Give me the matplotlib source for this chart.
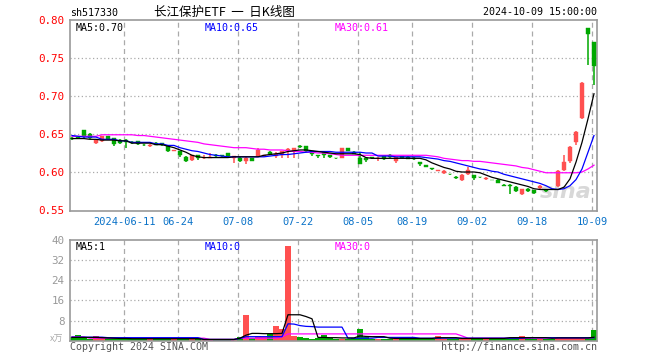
import numpy as np
import matplotlib
matplotlib.use("Agg")
import matplotlib.pyplot as plt

plt.rcParams['font.family'] = ['DejaVu Sans Mono', 'Noto Sans CJK SC']

# daily K-line data
opens = [0.645, 0.646, 0.655, 0.650, 0.638, 0.641, 0.647, 0.645, 0.642, 0.642,
         0.640, 0.641, 0.636, 0.634, 0.638, 0.638, 0.634, 0.627, 0.627, 0.620,
         0.616, 0.622, 0.618, 0.619, 0.623, 0.622, 0.625, 0.619, 0.619, 0.615,
         0.619, 0.621, 0.621, 0.626, 0.621, 0.623, 0.629, 0.627, 0.634, 0.634,
         0.627, 0.622, 0.626, 0.622, 0.619, 0.619, 0.631, 0.626, 0.619, 0.618,
         0.620, 0.618, 0.621, 0.623, 0.614, 0.621, 0.620, 0.619, 0.613, 0.609,
         0.605, 0.601, 0.599, 0.598, 0.594, 0.589, 0.597, 0.596, 0.594, 0.591,
         0.590, 0.590, 0.583, 0.583, 0.580, 0.571, 0.578, 0.576, 0.579, 0.576,
         0.578, 0.581, 0.602, 0.614, 0.640, 0.671, 0.789, 0.771]
closes = [0.643, 0.645, 0.647, 0.645, 0.642, 0.647, 0.644, 0.637, 0.638, 0.640,
          0.638, 0.637, 0.635, 0.636, 0.636, 0.635, 0.628, 0.629, 0.622, 0.615,
          0.622, 0.618, 0.619, 0.620, 0.621, 0.621, 0.621, 0.621, 0.614, 0.619,
          0.615, 0.629, 0.622, 0.624, 0.624, 0.627, 0.630, 0.631, 0.633, 0.627,
          0.624, 0.621, 0.623, 0.620, 0.618, 0.631, 0.628, 0.624, 0.611, 0.616,
          0.618, 0.619, 0.617, 0.620, 0.620, 0.619, 0.617, 0.617, 0.610, 0.607,
          0.604, 0.602, 0.601, 0.597, 0.592, 0.596, 0.603, 0.592, 0.593, 0.592,
          0.589, 0.586, 0.581, 0.582, 0.575, 0.578, 0.575, 0.573, 0.581, 0.575,
          0.577, 0.601, 0.613, 0.633, 0.652, 0.717, 0.781, 0.739]
highs = [0.646, 0.647, 0.655, 0.651, 0.642, 0.648, 0.648, 0.645, 0.643, 0.643,
         0.641, 0.641, 0.637, 0.637, 0.639, 0.638, 0.634, 0.629, 0.627, 0.621,
         0.622, 0.623, 0.622, 0.625, 0.624, 0.622, 0.625, 0.621, 0.620, 0.620,
         0.619, 0.631, 0.623, 0.627, 0.626, 0.628, 0.631, 0.631, 0.635, 0.634,
         0.627, 0.622, 0.627, 0.623, 0.619, 0.631, 0.632, 0.627, 0.626, 0.619,
         0.620, 0.620, 0.621, 0.624, 0.620, 0.621, 0.621, 0.620, 0.613, 0.609,
         0.605, 0.602, 0.602, 0.598, 0.595, 0.597, 0.606, 0.596, 0.594, 0.593,
         0.590, 0.591, 0.584, 0.584, 0.581, 0.578, 0.579, 0.576, 0.583, 0.577,
         0.578, 0.602, 0.622, 0.634, 0.654, 0.718, 0.789, 0.771]
lows = [0.642, 0.644, 0.645, 0.644, 0.637, 0.640, 0.643, 0.634, 0.637, 0.632,
        0.637, 0.636, 0.634, 0.633, 0.635, 0.634, 0.626, 0.627, 0.620, 0.613,
        0.615, 0.616, 0.617, 0.618, 0.620, 0.620, 0.620, 0.612, 0.613, 0.610,
        0.614, 0.620, 0.620, 0.623, 0.619, 0.619, 0.619, 0.618, 0.632, 0.626,
        0.621, 0.618, 0.619, 0.619, 0.617, 0.618, 0.627, 0.624, 0.610, 0.613,
        0.617, 0.614, 0.616, 0.619, 0.612, 0.618, 0.617, 0.616, 0.608, 0.606,
        0.603, 0.601, 0.597, 0.596, 0.591, 0.588, 0.596, 0.590, 0.592, 0.590,
        0.589, 0.585, 0.581, 0.571, 0.574, 0.570, 0.574, 0.571, 0.578, 0.574,
        0.576, 0.580, 0.601, 0.612, 0.636, 0.670, 0.741, 0.715]

ma5 = [0.644, 0.644, 0.644, 0.643, 0.643, 0.642, 0.642, 0.642, 0.641, 0.641,
       0.638, 0.638, 0.638, 0.638, 0.636, 0.636, 0.634, 0.632, 0.629, 0.626,
       0.622, 0.620, 0.619, 0.619, 0.619, 0.619, 0.619, 0.620, 0.620, 0.620,
       0.620, 0.620, 0.622, 0.623, 0.624, 0.625, 0.627, 0.628, 0.629, 0.629,
       0.628, 0.627, 0.626, 0.625, 0.624, 0.624, 0.624, 0.624, 0.623, 0.619,
       0.618, 0.618, 0.618, 0.618, 0.618, 0.618, 0.618, 0.618, 0.618, 0.616,
       0.612, 0.609, 0.606, 0.604, 0.601, 0.600, 0.600, 0.600, 0.599, 0.596,
       0.593, 0.591, 0.589, 0.587, 0.585, 0.583, 0.581, 0.578, 0.577, 0.577,
       0.577, 0.577, 0.580, 0.591, 0.613, 0.639, 0.670, 0.703]
ma10 = [0.648, 0.647, 0.646, 0.646, 0.646, 0.643, 0.643, 0.643, 0.641, 0.641,
        0.639, 0.639, 0.639, 0.639, 0.637, 0.637, 0.635, 0.635, 0.632, 0.630,
        0.628, 0.627, 0.625, 0.623, 0.622, 0.621, 0.620, 0.620, 0.620, 0.620,
        0.620, 0.620, 0.620, 0.621, 0.622, 0.623, 0.623, 0.624, 0.625, 0.626,
        0.627, 0.627, 0.627, 0.627, 0.626, 0.626, 0.626, 0.626, 0.626, 0.625,
        0.625, 0.621, 0.621, 0.621, 0.620, 0.620, 0.620, 0.620, 0.620, 0.619,
        0.618, 0.617, 0.615, 0.614, 0.612, 0.610, 0.608, 0.606, 0.604, 0.603,
        0.601, 0.600, 0.597, 0.595, 0.593, 0.591, 0.589, 0.587, 0.585, 0.582,
        0.578, 0.577, 0.578, 0.582, 0.590, 0.604, 0.626, 0.648]
ma30 = [0.647, 0.647, 0.647, 0.647, 0.647, 0.649, 0.649, 0.649, 0.649, 0.649,
        0.649, 0.648, 0.648, 0.647, 0.646, 0.645, 0.644, 0.643, 0.642, 0.641,
        0.640, 0.639, 0.637, 0.636, 0.635, 0.634, 0.633, 0.632, 0.632, 0.632,
        0.631, 0.630, 0.630, 0.629, 0.629, 0.629, 0.628, 0.627, 0.627, 0.626,
        0.626, 0.625, 0.625, 0.624, 0.623, 0.622, 0.622, 0.622, 0.622, 0.622,
        0.622, 0.622, 0.622, 0.622, 0.622, 0.622, 0.622, 0.622, 0.622, 0.622,
        0.621, 0.620, 0.618, 0.617, 0.616, 0.615, 0.615, 0.614, 0.614, 0.613,
        0.612, 0.611, 0.610, 0.609, 0.608, 0.606, 0.605, 0.603, 0.601, 0.599,
        0.599, 0.599, 0.599, 0.599, 0.599, 0.600, 0.604, 0.609]

# volume, x万
volume = [1.3, 2.1, 1.2, 0.8, 1.9, 1.2, 0.9, 0.9, 0.8, 0.8,
          0.7, 0.6, 0.7, 0.6, 0.7, 0.7, 0.8, 0.6, 0.7, 0.7,
          0.6, 0.7, 0.4, 0.5, 0.4, 0.4, 0.5, 0.5, 1.5, 10.3,
          0.9, 2.0, 1.5, 2.5, 6.0, 4.7, 37.5, 1.8, 1.5, 1.2,
          0.8, 0.9, 2.1, 0.9, 0.8, 0.8, 0.8, 0.9, 4.7, 1.6,
          0.8, 0.7, 0.8, 0.7, 0.8, 0.7, 0.7, 0.7, 1.2, 0.8,
          0.7, 2.0, 0.8, 0.7, 0.7, 0.8, 0.9, 0.7, 0.7, 0.6,
          0.7, 0.7, 0.8, 1.2, 1.6, 2.0, 0.9, 0.8, 0.8, 0.7,
          0.8, 1.1, 1.4, 0.9, 1.4, 0.9, 1.1, 4.4]
vol_ma5 = [1.3, 1.3, 1.3, 1.3, 1.3, 1.2, 1.1, 1.0, 0.9, 0.9,
           0.8, 0.8, 0.8, 0.8, 0.8, 0.8, 0.8, 0.8, 0.8, 0.8,
           0.8, 0.8, 0.5, 0.5, 0.5, 0.5, 0.5, 0.5, 1.0, 2.2,
           2.9, 2.9, 2.8, 2.8, 2.8, 2.9, 10.3, 10.3, 10.3, 9.6,
           8.7, 1.3, 1.3, 1.2, 1.2, 1.1, 1.1, 1.1, 1.9, 1.7,
           1.6, 1.6, 1.6, 1.0, 0.9, 0.9, 0.9, 0.9, 0.9, 0.9,
           0.9, 1.2, 1.2, 1.2, 1.2, 0.9, 0.9, 0.9, 0.9, 0.9,
           0.9, 0.9, 0.9, 1.2, 1.2, 1.2, 1.2, 1.2, 1.2, 1.2,
           1.0, 1.1, 1.1, 1.1, 1.1, 1.1, 1.1, 1.4]
vol_ma10 = [1.4, 1.4, 1.4, 1.4, 1.4, 1.4, 1.2, 1.2, 1.2, 1.2,
            1.2, 1.2, 1.2, 1.2, 1.2, 1.2, 1.2, 1.2, 1.2, 1.2,
            1.2, 1.2, 0.5, 0.5, 0.5, 0.5, 0.5, 0.5, 0.9, 1.6,
            1.6, 1.6, 1.6, 1.6, 1.6, 1.6, 6.7, 6.6, 6.0, 5.7,
            5.6, 5.4, 5.4, 5.4, 5.4, 5.4, 1.0, 1.0, 1.0, 1.0,
            1.0, 1.3, 1.3, 1.3, 1.3, 1.3, 1.3, 1.3, 1.0, 1.0,
            1.0, 1.0, 1.0, 1.0, 1.0, 1.0, 1.0, 1.0, 1.0, 1.0,
            1.0, 1.0, 1.0, 1.0, 1.0, 1.0, 1.2, 1.2, 1.2, 1.2,
            1.2, 1.2, 1.2, 1.2, 1.2, 1.2, 1.2, 1.2]
vol_ma30 = [1.5, 1.5, 1.5, 1.0, 1.0, 1.0, 1.0, 1.0, 1.0, 1.0,
            1.0, 1.0, 1.0, 1.0, 1.0, 1.0, 1.0, 1.0, 1.0, 1.0,
            1.0, 1.0, 1.0, 0.5, 0.5, 0.5, 0.5, 0.5, 1.0, 1.0,
            1.0, 1.0, 1.0, 1.0, 1.0, 1.5, 2.7, 2.7, 2.7, 2.7,
            2.7, 2.7, 2.7, 2.7, 2.7, 2.7, 2.7, 2.7, 2.7, 2.7,
            2.7, 2.7, 2.7, 2.7, 2.7, 2.7, 2.7, 2.7, 2.7, 2.7,
            2.7, 2.7, 2.7, 2.7, 2.7, 1.9, 1.0, 1.0, 1.0, 1.0,
            1.0, 1.0, 1.0, 1.0, 1.0, 1.0, 1.0, 1.0, 1.0, 1.0,
            1.0, 1.0, 1.0, 1.0, 1.0, 1.0, 1.0, 1.3]

date_labels = ['2024-06-11', '06-24', '07-08', '07-22', '08-05',
               '08-19', '09-02', '09-18', '10-09']
date_index = [9, 18, 28, 38, 48, 57, 67, 77, 87]

RED = '#ff5050'
GREEN = '#00a800'
GRID = '#aaaaaa'
FRAME = '#999999'
FS = 7.2

o = np.array(opens)
c = np.array(closes)
x = np.arange(len(o))
up = c >= o
colors = np.where(up, RED, GREEN)
tick_x = np.array(date_index) - 0.3

fig = plt.figure(figsize=(6.6, 3.6), dpi=100)
ax = fig.add_axes([70 / 660, 1 - 211 / 360, 527 / 660, 191 / 360])
axv = fig.add_axes([70 / 660, 1 - 340.7 / 360, 527 / 660, 100.7 / 360])

for a in (ax, axv):
    a.set_xlim(-0.33, 87.5)
    for s in a.spines.values():
        s.set_color(FRAME)
        s.set_linewidth(1.2)
    for t in tick_x:
        a.axvline(t, color=GRID, lw=0.9, ls=(0, (4, 3)), zorder=0)

# price panel
for lvl in [0.60, 0.65, 0.70, 0.75]:
    ax.axhline(lvl, color=GRID, lw=0.9, ls=(0, (1, 2)), zorder=0)
ax.vlines(x, lows, highs, color=colors, lw=1.1, zorder=2)
body = np.maximum(np.abs(c - o), 0.0008)
ax.bar(x, body, bottom=np.minimum(o, c), width=0.8, color=colors,
       edgecolor=colors, lw=0.3, zorder=3)
ax.plot(x, ma30, color='#ff00ff', lw=0.9, zorder=4)
ax.plot(x, ma10, color='#0000ff', lw=0.9, zorder=4)
ax.plot(x, ma5, color='#000000', lw=0.9, zorder=4)
ax.set_ylim(0.5487, 0.80)
ax.set_yticks([0.55, 0.60, 0.65, 0.70, 0.75, 0.80])
ax.set_yticklabels(['0.55', '0.60', '0.65', '0.70', '0.75', '0.80'],
                   color='#ff0000', fontsize=FS + 0.6)
ax.set_xticks(tick_x)
ax.set_xticklabels(date_labels, color='#0a72c8', fontsize=FS + 0.3)
ax.tick_params(length=0, pad=4)

ax.text(0.01, 0.985, 'MA5:0.70', transform=ax.transAxes, va='top',
        fontsize=FS, color='black')
ax.text(0.256, 0.985, 'MA10:0.65', transform=ax.transAxes, va='top',
        fontsize=FS, color='#0000ff')
ax.text(0.502, 0.985, 'MA30:0.61', transform=ax.transAxes, va='top',
        fontsize=FS, color='#ff00ff')
ax.text(0.99, 0.1, 'sina', transform=ax.transAxes, ha='right', va='center',
        fontsize=16, fontweight='bold', style='italic', color='#d8d8d8',
        family='DejaVu Sans', zorder=1)

# volume panel
for lvl in [8, 16, 24, 32]:
    axv.axhline(lvl, color=GRID, lw=0.9, ls=(0, (1, 2)), zorder=0)
axv.bar(x, volume, width=0.85, color=colors, zorder=2)
axv.plot(x, vol_ma30, color='#ff00ff', lw=0.9, zorder=3)
axv.plot(x, vol_ma10, color='#0000ff', lw=0.9, zorder=3)
axv.plot(x, vol_ma5, color='#000000', lw=0.9, zorder=3)
axv.set_ylim(0, 40)
axv.set_yticks([8, 16, 24, 32, 40])
axv.set_yticklabels(['8', '16', '24', '32', '40'], color='#999999',
                    fontsize=FS + 0.6)
axv.set_xticks([])
axv.tick_params(length=0, pad=4)

axv.text(0.01, 0.985, 'MA5:1', transform=axv.transAxes, va='top',
         fontsize=FS, color='black')
axv.text(0.256, 0.985, 'MA10:0', transform=axv.transAxes, va='top',
         fontsize=FS, color='#0000ff')
axv.text(0.502, 0.985, 'MA30:0', transform=axv.transAxes, va='top',
         fontsize=FS, color='#ff00ff')

# header / footer texts
fig.text(70 / 660, 1 - 13 / 360, 'sh517330', fontsize=FS, va='center')
fig.text(224 / 660, 1 - 12 / 360, '长江保护ETF  一  日K线图', fontsize=9,
         ha='center', va='center', family=['Noto Sans CJK SC', 'DejaVu Sans'])
fig.text(597 / 660, 1 - 12 / 360, '2024-10-09 15:00:00', fontsize=FS,
         ha='right', va='center')
fig.text(57 / 660, 1 - 339 / 360, 'x万', fontsize=6.5, ha='center', va='center',
         color='#aaaaaa', family=['Noto Sans CJK SC', 'DejaVu Sans'])
fig.text(70 / 660, 1 - 347 / 360, 'Copyright 2024 SINA.COM', fontsize=FS,
         va='center', color='#555555')
fig.text(597 / 660, 1 - 347 / 360, 'http://finance.sina.com.cn', fontsize=FS,
         ha='right', va='center', color='#555555')

fig.savefig('out.png', dpi=100, facecolor='white')
